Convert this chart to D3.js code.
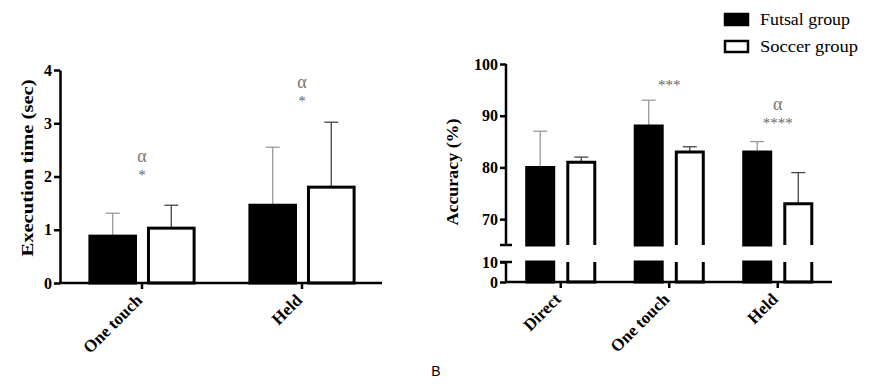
<!DOCTYPE html>
<html>
<head>
<meta charset="utf-8">
<script src="https://cdn.jsdelivr.net/npm/d3@7/dist/d3.min.js"></script>
<style>
  body { margin: 0; background: #fff; }
  .domain, .tick line { stroke: #000; stroke-width: 2.5px; }
</style>
</head>
<body>
<div id="chart-area"></div>
<script>
// data
var groups = ["Futsal group", "Soccer group"]

var timeCats = ["One touch", "Held"]
var futsalTime = [0.88, 1.46]
var futsalTimeSd = [0.43, 1.09]
var soccerTime = [1.03, 1.80]
var soccerTimeSd = [0.43, 1.22]
var timeAlpha = ["α", "α"]
var timeStars = ["*", "*"]
var timeMarkLevel = [2.06, 3.45]
var timeTicks = [0, 1, 2, 3, 4]

var accCats = ["Direct", "One touch", "Held"]
var futsalAcc = [80, 88, 83]
var futsalAccSd = [7, 5, 2]
var soccerAcc = [81, 83, 73]
var soccerAccSd = [1, 1, 6]
var accAlpha = ["", "", "α"]
var accStars = ["", "***", "****"]
var accMarkLevel = [0, 96.3, 89]
var accTicksUp = [70, 80, 90, 100]
var accTicksLow = [0, 10]

var cw = 873, ch = 390
var serif = "'Liberation Serif', 'Times New Roman', serif"

var svg = d3.select("#chart-area").append("svg")
    .attr("width", cw)
    .attr("height", ch)
    .style("font-family", serif)

var fill = d3.scaleOrdinal().domain(groups).range(["#000", "#fff"])
var errColor = d3.scaleOrdinal().domain(groups).range(["#999", "#444"])

function rows(cats, fv, fs, sv, ss) {
    return cats.map((c, i) => [
        {cat: c, group: groups[0], value: fv[i], sd: fs[i]},
        {cat: c, group: groups[1], value: sv[i], sd: ss[i]}
    ]).flat()
}

// make axis text bold serif
function styleAxis(sel) {
    sel.attr("font-family", null).attr("font-size", null)
    sel.selectAll(".tick text")
        .style("font-family", serif)
        .style("font-weight", "bold")
        .style("font-size", "16px")
        .attr("fill", "#000")
}

function rotateLabels(sel) {
    sel.selectAll(".tick text")
        .style("font-size", "17px")
        .attr("text-anchor", "end")
        .attr("x", 0)
        .attr("y", 0)
        .attr("dy", "0.35em")
        .attr("transform", "translate(-3,14) rotate(-45)")
}

/* ---------- left panel: execution time ---------- */
var xL = d3.scaleBand().domain(timeCats).range([62, 382])
    .paddingInner(0.33).paddingOuter(0.165)
var subL = d3.scaleBand().domain(groups).range([0, xL.bandwidth()]).paddingInner(0.17)
var yL = d3.scaleLinear().domain([0, 4]).range([283, 70])

var gL = svg.append("g")

var timeData = rows(timeCats, futsalTime, futsalTimeSd, soccerTime, soccerTimeSd)

// error bars (behind bars)
var errL = gL.selectAll(".err").data(timeData).enter().append("g")
    .attr("stroke", d => errColor(d.group))
    .attr("stroke-width", 1.3)
errL.append("line")
    .attr("x1", d => xL(d.cat) + subL(d.group) + subL.bandwidth() / 2)
    .attr("x2", d => xL(d.cat) + subL(d.group) + subL.bandwidth() / 2)
    .attr("y1", d => yL(d.value))
    .attr("y2", d => yL(d.value + d.sd))
errL.append("line")
    .attr("x1", d => xL(d.cat) + subL(d.group) + subL.bandwidth() / 2 - 7)
    .attr("x2", d => xL(d.cat) + subL(d.group) + subL.bandwidth() / 2 + 7)
    .attr("y1", d => yL(d.value + d.sd))
    .attr("y2", d => yL(d.value + d.sd))

gL.selectAll(".bar").data(timeData).enter().append("rect")
    .attr("x", d => xL(d.cat) + subL(d.group) + 1.5)
    .attr("width", subL.bandwidth() - 3)
    .attr("y", d => yL(d.value))
    .attr("height", d => yL(0) - yL(d.value))
    .attr("fill", d => fill(d.group))
    .attr("stroke", "#000")
    .attr("stroke-width", 3)

gL.append("g")
    .attr("transform", "translate(60,0)")
    .call(d3.axisLeft(yL).tickValues(timeTicks).tickFormat(d3.format("d"))
        .tickSize(6).tickSizeOuter(0).tickPadding(2))
    .call(styleAxis)

var xAxL = gL.append("g")
    .attr("transform", "translate(0,283)")
    .call(d3.axisBottom(xL).tickSize(6).tickSizeOuter(0))
    .call(styleAxis)
    .call(rotateLabels)
xAxL.select(".domain").attr("d", "M59,0H382")

gL.append("text")
    .attr("transform", "translate(33,168) rotate(-90)")
    .attr("text-anchor", "middle")
    .attr("font-weight", "bold")
    .attr("font-size", "17px")
    .attr("textLength", 177)
    .attr("lengthAdjust", "spacingAndGlyphs")
    .text("Execution time (sec)")

timeCats.forEach((c, i) => {
    var cx = xL(c) + xL.bandwidth() / 2
    gL.append("text").attr("x", cx).attr("y", yL(timeMarkLevel[i]) + 7)
        .attr("text-anchor", "middle").attr("font-size", "15px").attr("fill", "#666")
        .text(timeStars[i])
    gL.append("text").attr("x", cx).attr("y", yL(timeMarkLevel[i]) - 11)
        .attr("text-anchor", "middle").attr("font-size", "18px").attr("fill", "#777")
        .text(timeAlpha[i])
})

/* ---------- right panel: accuracy (broken axis) ---------- */
var xR = d3.scaleBand().domain(accCats).range([506.5, 832])
    .paddingInner(0.345).paddingOuter(0.1725)
var subR = d3.scaleBand().domain(groups).range([0, xR.bandwidth()]).paddingInner(0.27)
var yUp = d3.scaleLinear().domain([65, 100]).range([245, 64])
var yLow = d3.scaleLinear().domain([0, 10]).range([282, 262])

var gR = svg.append("g")
var accData = rows(accCats, futsalAcc, futsalAccSd, soccerAcc, soccerAccSd)

var errR = gR.selectAll(".err").data(accData).enter().append("g")
    .attr("stroke", d => errColor(d.group))
    .attr("stroke-width", 1.3)
errR.append("line")
    .attr("x1", d => xR(d.cat) + subR(d.group) + subR.bandwidth() / 2)
    .attr("x2", d => xR(d.cat) + subR(d.group) + subR.bandwidth() / 2)
    .attr("y1", d => yUp(d.value))
    .attr("y2", d => yUp(d.value + d.sd))
errR.append("line")
    .attr("x1", d => xR(d.cat) + subR(d.group) + subR.bandwidth() / 2 - 7)
    .attr("x2", d => xR(d.cat) + subR(d.group) + subR.bandwidth() / 2 + 7)
    .attr("y1", d => yUp(d.value + d.sd))
    .attr("y2", d => yUp(d.value + d.sd))

// upper segment: open at the bottom
gR.selectAll(".barUp").data(accData).enter().append("path")
    .attr("d", d => {
        var x0 = xR(d.cat) + subR(d.group) + 1.5
        var x1 = x0 + subR.bandwidth() - 3
        return "M" + x0 + "," + yUp(65) + "V" + yUp(d.value) + "H" + x1 + "V" + yUp(65) +
            (d.group === groups[0] ? "Z" : "")
    })
    .attr("fill", d => fill(d.group))
    .attr("stroke", "#000")
    .attr("stroke-width", 3)

// lower segment: two sides only
gR.selectAll(".barLow").data(accData).enter().append("path")
    .attr("d", d => {
        var x0 = xR(d.cat) + subR(d.group) + 1.5
        var x1 = x0 + subR.bandwidth() - 3
        return "M" + x0 + "," + yLow(10) + "V" + yLow(0) + "H" + x1 + "V" + yLow(10) +
            (d.group === groups[0] ? "Z" : "")
    })
    .attr("fill", d => fill(d.group))
    .attr("stroke", "#000")
    .attr("stroke-width", 3)

var axUp = gR.append("g")
    .attr("transform", "translate(506,0)")
    .call(d3.axisLeft(yUp).tickValues(accTicksUp).tickSize(6).tickSizeOuter(0).tickPadding(2))
    .call(styleAxis)
axUp.select(".domain").attr("d", "M0,64V245")
var axLow = gR.append("g")
    .attr("transform", "translate(506,0)")
    .call(d3.axisLeft(yLow).tickValues(accTicksLow).tickSize(6).tickSizeOuter(0).tickPadding(2))
    .call(styleAxis)
axLow.select(".domain").attr("d", "M0,262V282")
// break marks
gR.append("path")
    .attr("d", "M500," + yUp(65) + "H512M500," + yLow(10) + "H512")
    .attr("stroke", "#000").attr("stroke-width", 2.5)

var xAxR = gR.append("g")
    .attr("transform", "translate(0,282)")
    .call(d3.axisBottom(xR).tickSize(6).tickSizeOuter(0))
    .call(styleAxis)
    .call(rotateLabels)
xAxR.select(".domain").attr("d", "M505,0H832")

gR.append("text")
    .attr("transform", "translate(458,172) rotate(-90)")
    .attr("text-anchor", "middle")
    .attr("font-weight", "bold")
    .attr("font-size", "17px")
    .attr("textLength", 107)
    .attr("lengthAdjust", "spacingAndGlyphs")
    .text("Accuracy (%)")

accCats.forEach((c, i) => {
    var cx = xR(c) + xR.bandwidth() / 2
    if (accStars[i]) gR.append("text").attr("x", cx).attr("y", yUp(accMarkLevel[i]) + 7)
        .attr("text-anchor", "middle").attr("font-size", "15px").attr("fill", "#666")
        .text(accStars[i])
    if (accAlpha[i]) gR.append("text").attr("x", cx).attr("y", yUp(accMarkLevel[i]) - 11)
        .attr("text-anchor", "middle").attr("font-size", "18px").attr("fill", "#777")
        .text(accAlpha[i])
})

// legend
var legend = svg.append("g").attr("transform", "translate(724,13)")
var items = legend.selectAll(".legend-item").data(groups).enter().append("g")
    .attr("transform", (d, i) => "translate(0," + i * 27 + ")")
items.append("rect")
    .attr("x", 1).attr("y", 1).attr("width", 23).attr("height", 11)
    .attr("fill", d => fill(d)).attr("stroke", "#000").attr("stroke-width", 2.5)
items.append("text")
    .attr("x", 36).attr("y", 12)
    .attr("font-size", "16px")
    .attr("textLength", (d, i) => i === 0 ? 90 : 98)
    .attr("lengthAdjust", "spacingAndGlyphs")
    .text(d => d)

svg.append("text")
    .attr("x", 436).attr("y", 376)
    .attr("text-anchor", "middle")
    .style("font-family", "'Liberation Sans', Arial, sans-serif")
    .attr("font-size", "14px")
    .text("B")
</script>
</body>
</html>
